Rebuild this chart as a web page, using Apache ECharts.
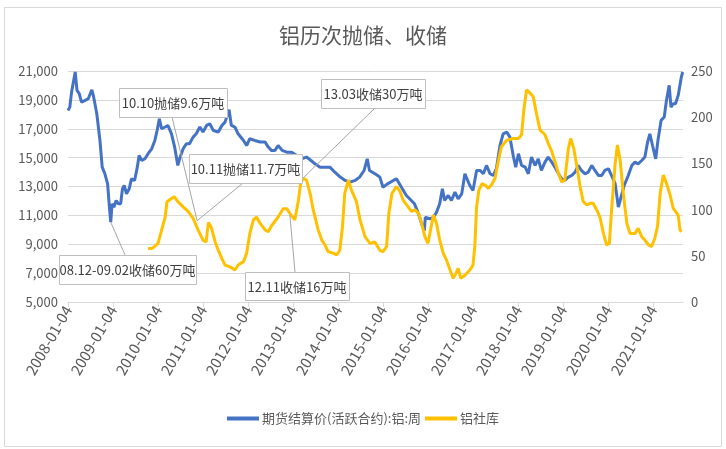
<!DOCTYPE html>
<html><head><meta charset="utf-8">
<script src="https://cdn.jsdelivr.net/npm/echarts@6/dist/echarts.min.js"></script>
<style>html,body{margin:0;padding:0;background:#fff}#c{width:726px;height:449px}</style>
</head><body><div id="c"></div><script>
const titleText = '铝历次抛储、收储';
const seriesNames = ['期货结算价(活跃合约):铝:周', '铝社库'];
const yearTicks = ['2008-01-04','2009-01-04','2010-01-04','2011-01-04','2012-01-04','2013-01-04','2014-01-04','2015-01-04','2016-01-04','2017-01-04','2018-01-04','2019-01-04','2020-01-04','2021-01-04'];

// decimal-year positions and values for the price line (left axis)
const priceX = [2008.00,2008.04,2008.08,2008.16,2008.20,2008.25,2008.30,2008.38,2008.45,2008.53,2008.57,2008.64,2008.71,2008.76,2008.82,2008.88,2008.92,2008.95,2008.98,2009.02,2009.07,2009.12,2009.17,2009.21,2009.25,2009.30,2009.36,2009.41,2009.48,2009.54,2009.58,2009.64,2009.71,2009.78,2009.86,2009.93,2009.98,2010.03,2010.08,2010.16,2010.22,2010.30,2010.37,2010.44,2010.48,2010.56,2010.63,2010.70,2010.78,2010.85,2010.93,2011.00,2011.08,2011.15,2011.23,2011.34,2011.42,2011.49,2011.58,2011.63,2011.71,2011.78,2011.90,2011.97,2012.04,2012.15,2012.27,2012.38,2012.45,2012.52,2012.60,2012.67,2012.76,2012.86,2012.97,2013.08,2013.19,2013.30,2013.40,2013.49,2013.60,2013.71,2013.82,2013.93,2014.05,2014.16,2014.27,2014.38,2014.48,2014.58,2014.65,2014.70,2014.82,2014.88,2014.93,2015.00,2015.10,2015.23,2015.30,2015.41,2015.52,2015.63,2015.70,2015.79,2015.86,2015.92,2015.94,2016.04,2016.12,2016.19,2016.26,2016.32,2016.37,2016.45,2016.52,2016.60,2016.67,2016.75,2016.82,2016.86,2016.93,2017.00,2017.08,2017.12,2017.16,2017.23,2017.30,2017.38,2017.45,2017.52,2017.60,2017.67,2017.75,2017.82,2017.90,2017.95,2018.01,2018.08,2018.16,2018.23,2018.30,2018.38,2018.45,2018.52,2018.60,2018.67,2018.75,2018.82,2018.90,2018.97,2019.04,2019.12,2019.19,2019.27,2019.34,2019.41,2019.49,2019.56,2019.64,2019.71,2019.79,2019.86,2019.93,2020.01,2020.08,2020.16,2020.23,2020.27,2020.36,2020.45,2020.53,2020.60,2020.67,2020.75,2020.82,2020.88,2020.93,2020.99,2021.06,2021.11,2021.18,2021.25,2021.30,2021.36,2021.40,2021.45,2021.50,2021.56,2021.63,2021.66];
const priceY = [18270,18500,19550,20930,19660,19430,18850,18970,19080,19700,19200,18040,16190,14340,13880,13180,11570,10530,11800,11570,12030,11800,11800,12840,13070,12490,12840,13530,13420,14340,15150,14800,14920,15270,15610,16190,16880,17690,17000,17120,17230,16650,15730,14460,14920,15610,15960,15960,16420,16650,17120,16770,17230,17350,16880,16770,17230,17460,18320,17230,17120,16650,16190,15840,16310,16190,16080,16080,15730,15500,15500,15840,15500,15380,15380,15150,14920,15040,14800,14570,14340,14340,14340,13990,13650,13420,13300,13420,13650,14110,14920,14110,13880,13760,13650,12950,13180,13420,13530,12950,12380,12030,11800,11100,10410,9950,10870,10760,10870,11220,11800,12840,12030,12380,12030,12610,12140,12490,13880,13990,13070,12720,14110,14230,14110,13880,14460,13880,13760,14230,15840,16650,16770,16420,15040,14340,15270,14460,14340,13880,15040,14460,14920,14110,14690,15040,14690,14340,13880,13530,13420,13650,13760,13990,14460,14110,13880,13990,14460,14110,13760,13760,14110,14230,13760,13180,11570,12030,13070,13760,14460,14690,14570,14800,15040,16080,16650,15840,14920,16190,17580,17810,18970,20010,18500,18730,18730,19310,20580,20930];

// decimal-year positions and values for the social inventory line (right axis)
const stockX = [2009.78,2009.87,2009.92,2010.00,2010.07,2010.16,2010.20,2010.23,2010.30,2010.36,2010.44,2010.56,2010.67,2010.78,2010.89,2011.00,2011.07,2011.12,2011.19,2011.27,2011.34,2011.42,2011.49,2011.60,2011.71,2011.78,2011.90,2011.97,2012.04,2012.12,2012.19,2012.27,2012.38,2012.45,2012.53,2012.67,2012.78,2012.86,2012.93,2013.04,2013.12,2013.17,2013.23,2013.30,2013.38,2013.45,2013.56,2013.64,2013.71,2013.78,2013.90,2013.97,2014.04,2014.10,2014.15,2014.23,2014.30,2014.41,2014.49,2014.60,2014.71,2014.82,2014.93,2015.00,2015.08,2015.13,2015.20,2015.30,2015.38,2015.45,2015.56,2015.63,2015.71,2015.79,2015.86,2015.93,2016.00,2016.07,2016.12,2016.19,2016.26,2016.34,2016.41,2016.49,2016.56,2016.62,2016.67,2016.73,2016.82,2016.93,2017.00,2017.04,2017.08,2017.13,2017.20,2017.27,2017.34,2017.41,2017.49,2017.56,2017.63,2017.75,2017.90,2018.01,2018.08,2018.13,2018.19,2018.27,2018.34,2018.41,2018.49,2018.60,2018.67,2018.75,2018.82,2018.90,2018.97,2019.04,2019.12,2019.17,2019.24,2019.31,2019.38,2019.45,2019.53,2019.60,2019.67,2019.75,2019.82,2019.90,2019.97,2020.03,2020.08,2020.16,2020.21,2020.27,2020.34,2020.42,2020.49,2020.60,2020.67,2020.75,2020.82,2020.90,2020.97,2021.04,2021.10,2021.16,2021.23,2021.30,2021.38,2021.45,2021.56,2021.60,2021.63];
const stockY = [58,58,60,63.5,76,92,108.6,110,112,114,108.6,103,98,90.6,78,67,65,86,80,65,56,47,40,38,34.6,40,43.7,52.7,74,88.8,92,85,78,76,83,92,101,101,96,88.8,110,128.4,134,132,117.6,99.6,78,67,61.7,54.5,52.7,50.9,56,81.5,117.6,132,121,108.6,88.8,70.7,63.5,65,56,54.5,60,96,117.6,125,119.4,110,103,98,99.6,96,85,70.7,63.5,81.5,94,85,67,52.7,45.5,34.6,25.6,31,36.4,25.6,29,34.6,40,60,103,121,128,126.6,123,126.6,134,152,168,175,177,177,181,208,229.5,226,222,204,186,181,172,163,152,139,130,132,166,177,166,146.5,125,108.6,105,106.8,106.8,99.6,92,74,61.7,63.5,99.6,150,170,153.7,117.6,85,74,74,79.7,70.7,67,61.7,60,69,81.5,117.6,137.5,128.4,115.8,101.4,94,78,76];

// callouts: text, anchor on series (decimal year, value)
const noteText = ['08.12-09.02收储60万吨','10.10抛储9.6万吨','10.11抛储11.7万吨','12.11收储16万吨','13.03收储30万吨'];
const noteSeries = [0,1,1,1,1];
const noteAnchorX = [2008.95,2010.87,2010.87,2012.93,2013.22];
const noteAnchorY = [10530,88,88,94,134];

const FONT = '"Noto Sans CJK SC", "Noto Sans", sans-serif';
const chart = echarts.init(document.getElementById('c'), null, {renderer:'canvas'});
const option = {
  animation: false,
  backgroundColor: '#fff',
  textStyle: {fontFamily: FONT},
  title: {text: titleText, left: 'center', top: 20, textStyle: {fontSize: 21, fontWeight: 'normal', color: '#595959', fontFamily: FONT}},
  legend: {
    bottom: 19, left: 'center', icon: 'rect', itemWidth: 32, itemHeight: 4, itemGap: 4,
    textStyle: {fontSize: 13, color: '#595959', fontFamily: FONT, padding: [0,0,0,-2]},
    data: seriesNames
  },
  grid: {left: 68, right: 43, top: 71, bottom: 147},
  xAxis: {
    type: 'value', min: 2008, max: 2021.667, interval: 1,
    axisLine: {show: true, lineStyle: {color: '#d9d9d9'}},
    axisTick: {show: true, length: 5, lineStyle: {color: '#d9d9d9'}},
    splitLine: {show: false},
    axisLabel: {
      rotate: 60, fontSize: 15, color: '#595959', margin: 5, showMaxLabel: false,
      formatter: v => { const i = Math.round(v - 2008); return (Math.abs(v - 2008 - i) < 1e-6 && yearTicks[i]) ? yearTicks[i] : ''; }
    }
  },
  yAxis: [
    {type: 'value', min: 5000, max: 21000, interval: 2000,
     axisLine: {show: false}, axisTick: {show: false},
     splitLine: {lineStyle: {color: '#d9d9d9', width: 1}},
     axisLabel: {fontSize: 13, color: '#595959', margin: 10, formatter: v => v.toLocaleString('en-US')}},
    {type: 'value', min: 0, max: 250, interval: 50,
     axisLine: {show: false}, axisTick: {show: false}, splitLine: {show: false},
     axisLabel: {fontSize: 13, color: '#595959', margin: 8}}
  ],
  series: [
    {name: seriesNames[0], type: 'line', yAxisIndex: 0, showSymbol: false, symbol: 'none',
     lineStyle: {color: '#4472C4', width: 3}, itemStyle: {color: '#4472C4'},
     data: priceX.map((x, i) => [x, priceY[i]])},
    {name: seriesNames[1], type: 'line', yAxisIndex: 1, showSymbol: false, symbol: 'none',
     lineStyle: {color: '#FFC000', width: 3}, itemStyle: {color: '#FFC000'},
     data: stockX.map((x, i) => [x, stockY[i]])}
  ]
};
chart.setOption(option);

// callout box layout (pixels)
const boxes = [
  {x: 59, y: 255, w: 137, h: 29, lx: 125, ly: 255},
  {x: 119, y: 88, w: 108, h: 29, lx: 172, ly: 117},
  {x: 189, y: 154, w: 113, h: 29, lx: 243, ly: 183},
  {x: 245, y: 272, w: 104, h: 28, lx: 295, ly: 272},
  {x: 321, y: 79, w: 104, h: 29, lx: 375, ly: 108}
];
const g = [{type: 'rect', shape: {x: 4.5, y: 7.5, width: 717, height: 439}, style: {fill: 'none', stroke: '#d9d9d9', lineWidth: 1}, z: 0, silent: true}];
noteText.forEach((t, i) => {
  const p = chart.convertToPixel({seriesIndex: noteSeries[i]}, [noteAnchorX[i], noteAnchorY[i]]);
  const b = boxes[i];
  g.push({type: 'line', shape: {x1: p[0], y1: p[1], x2: b.lx, y2: b.ly}, style: {stroke: '#a6a6a6', lineWidth: 1}, z: 100});
  g.push({type: 'rect', shape: {x: b.x + 0.5, y: b.y + 0.5, width: b.w, height: b.h}, style: {fill: '#fff', stroke: '#bfbfbf', lineWidth: 1}, z: 101});
  g.push({type: 'text', x: b.x + b.w / 2, y: b.y + b.h / 2 + 1, style: {text: t, fill: '#404040', font: '13px ' + FONT, align: 'center', verticalAlign: 'middle'}, z: 102});
});
chart.setOption({graphic: g});
</script></body></html>
